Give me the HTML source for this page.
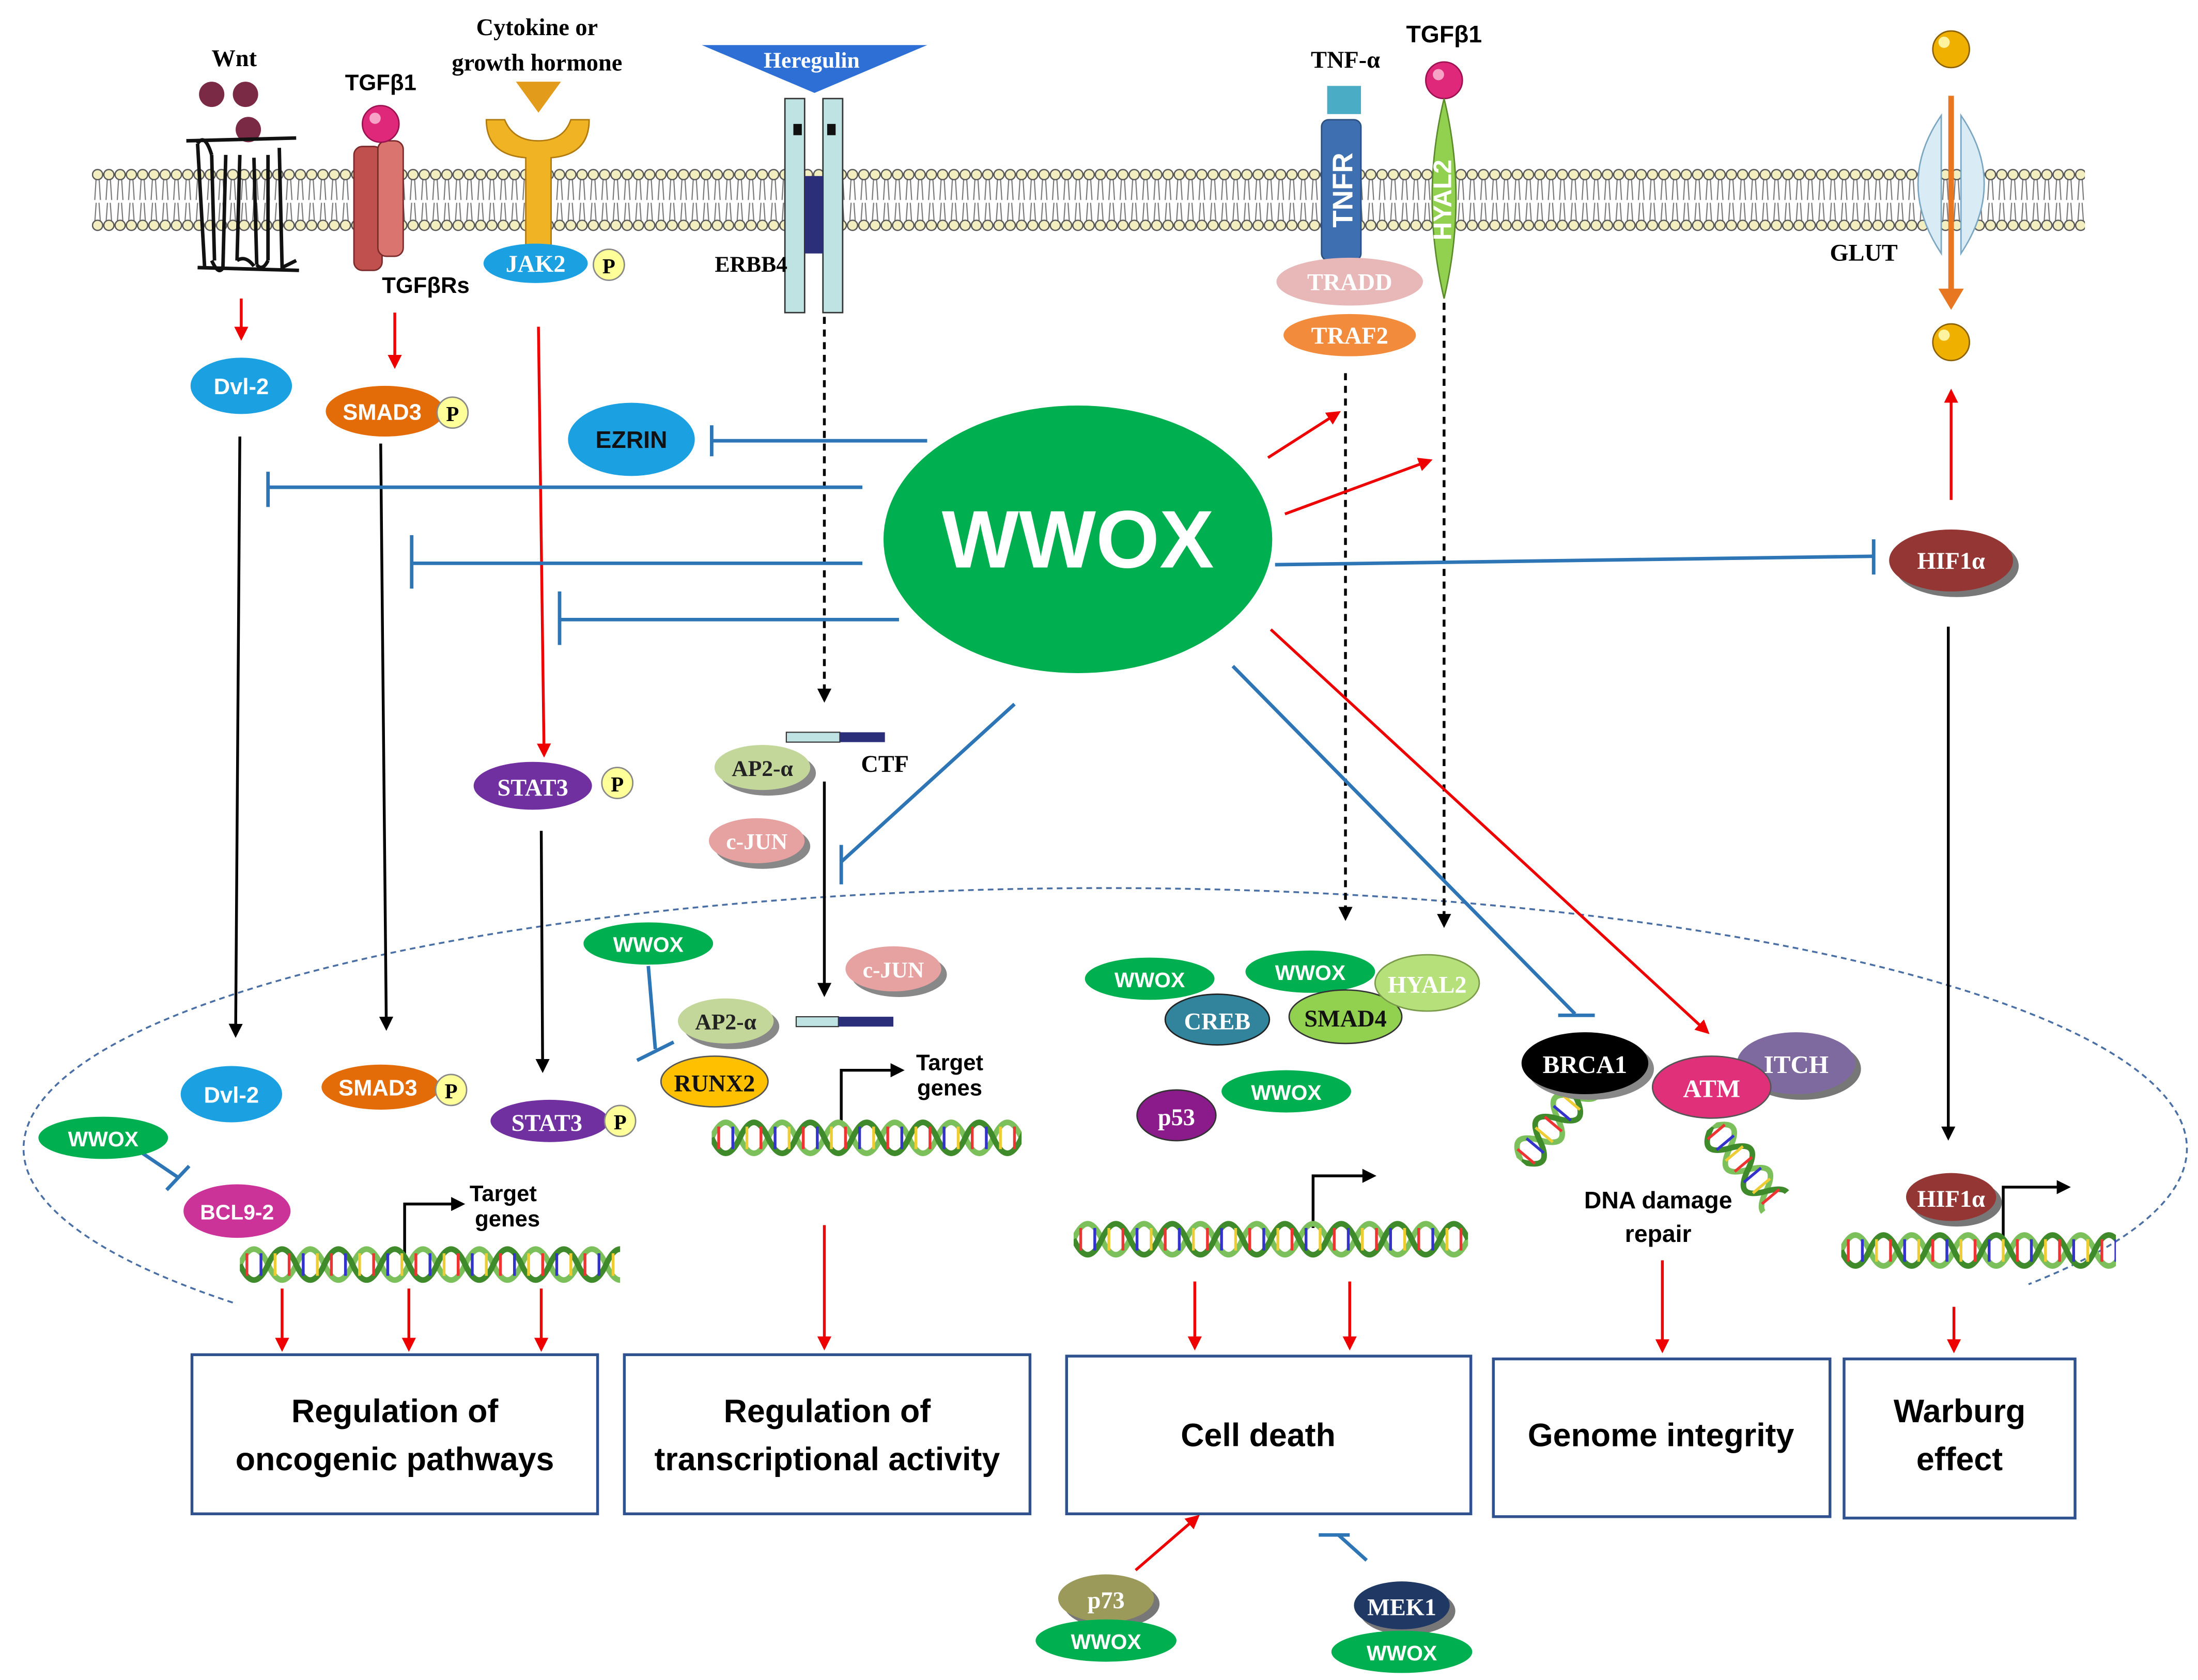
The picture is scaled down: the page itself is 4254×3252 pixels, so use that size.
<!DOCTYPE html>
<html><head><meta charset="utf-8"><style>
html,body{margin:0;padding:0;background:#fff;}
svg{display:block;}
text{font-family:"Liberation Sans",sans-serif;}
.s{font-family:"Liberation Serif",serif;font-weight:bold;}
.b{font-weight:bold;}
</style></head><body>
<svg width="4254" height="3252" viewBox="0 0 1560 1193" xmlns="http://www.w3.org/2000/svg">
<defs>
<marker id="ar" markerWidth="10" markerHeight="10" refX="8" refY="5" orient="auto" markerUnits="userSpaceOnUse"><path d="M0,0 L10,5 L0,10 z" fill="#e00"/></marker>
<marker id="ak" markerWidth="10" markerHeight="10" refX="8" refY="5" orient="auto" markerUnits="userSpaceOnUse"><path d="M0,0 L10,5 L0,10 z" fill="#000"/></marker>
<pattern id="lip" x="65" y="0" width="8" height="200" patternUnits="userSpaceOnUse">
<line x1="3" y1="126" x2="2" y2="142" stroke="#777" stroke-width="0.8"/><line x1="5" y1="126" x2="6" y2="142" stroke="#777" stroke-width="0.8"/>
<line x1="3" y1="144" x2="2" y2="158" stroke="#777" stroke-width="0.8"/><line x1="5" y1="144" x2="6" y2="158" stroke="#777" stroke-width="0.8"/>
<circle cx="4" cy="124" r="3.6" fill="#f2eec0" stroke="#555" stroke-width="0.9"/>
<circle cx="4" cy="160" r="3.6" fill="#f2eec0" stroke="#555" stroke-width="0.9"/>
</pattern>
<g id="dna">
<path d="M0,0 q10,-22 20,0 t20,0 t20,0 t20,0 t20,0 t20,0 t20,0 t20,0 t20,0 t20,0 t20,0 t20,0 t20,0 t20,0" fill="none" stroke="#7cc05c" stroke-width="4"/>
<path d="M0,0 q10,22 20,0 t20,0 t20,0 t20,0 t20,0 t20,0 t20,0 t20,0 t20,0 t20,0 t20,0 t20,0 t20,0 t20,0" fill="none" stroke="#3f8a2a" stroke-width="4"/>
<g stroke-width="2">
<line x1="5" y1="-8" x2="5" y2="8" stroke="#e33"/><line x1="15" y1="-8" x2="15" y2="8" stroke="#33c"/><line x1="25" y1="-8" x2="25" y2="8" stroke="#ec3"/><line x1="35" y1="-8" x2="35" y2="8" stroke="#e33"/>
<line x1="45" y1="-8" x2="45" y2="8" stroke="#33c"/><line x1="55" y1="-8" x2="55" y2="8" stroke="#ec3"/><line x1="65" y1="-8" x2="65" y2="8" stroke="#e33"/><line x1="75" y1="-8" x2="75" y2="8" stroke="#33c"/>
<line x1="85" y1="-8" x2="85" y2="8" stroke="#ec3"/><line x1="95" y1="-8" x2="95" y2="8" stroke="#e33"/><line x1="105" y1="-8" x2="105" y2="8" stroke="#33c"/><line x1="115" y1="-8" x2="115" y2="8" stroke="#ec3"/>
<line x1="125" y1="-8" x2="125" y2="8" stroke="#e33"/><line x1="135" y1="-8" x2="135" y2="8" stroke="#33c"/><line x1="145" y1="-8" x2="145" y2="8" stroke="#ec3"/><line x1="155" y1="-8" x2="155" y2="8" stroke="#e33"/>
<line x1="165" y1="-8" x2="165" y2="8" stroke="#33c"/><line x1="175" y1="-8" x2="175" y2="8" stroke="#ec3"/><line x1="185" y1="-8" x2="185" y2="8" stroke="#e33"/><line x1="195" y1="-8" x2="195" y2="8" stroke="#33c"/>
<line x1="205" y1="-8" x2="205" y2="8" stroke="#ec3"/><line x1="215" y1="-8" x2="215" y2="8" stroke="#e33"/><line x1="225" y1="-8" x2="225" y2="8" stroke="#33c"/><line x1="235" y1="-8" x2="235" y2="8" stroke="#ec3"/>
<line x1="245" y1="-8" x2="245" y2="8" stroke="#e33"/><line x1="255" y1="-8" x2="255" y2="8" stroke="#33c"/><line x1="265" y1="-8" x2="265" y2="8" stroke="#ec3"/><line x1="275" y1="-8" x2="275" y2="8" stroke="#e33"/>
</g></g>
<clipPath id="c1"><rect x="0" y="-20" width="270" height="40"/></clipPath>
<clipPath id="c2"><rect x="0" y="-20" width="220" height="40"/></clipPath>
<clipPath id="c3"><rect x="0" y="-20" width="280" height="40"/></clipPath>
<clipPath id="c4"><rect x="0" y="-20" width="195" height="40"/></clipPath>
<clipPath id="c5"><rect x="0" y="-20" width="70" height="40"/></clipPath>
</defs>

<rect x="65" y="118" width="1415" height="48" fill="url(#lip)"/>

<path d="M165,925 A768,185 0 1 1 1440,912" fill="none" stroke="#4a6fa5" stroke-width="1.3" stroke-dasharray="4,3"/>

<circle cx="150" cy="67" r="9" fill="#7a2a45"/><circle cx="174" cy="67" r="9" fill="#7a2a45"/><circle cx="176" cy="92" r="9" fill="#7a2a45"/>
<text x="166" y="47" class="s" font-size="17" text-anchor="middle" fill="#000">Wnt</text>
<path d="M132,100 L210,98 M140,102 L145,190 M150,110 L152,185 M160,110 L158,190 M170,110 L168,185 M180,112 L182,188 M190,110 L190,185 M198,105 L200,190 L210,185 M140,190 L212,192" stroke="#111" stroke-width="2.5" fill="none"/>
<path d="M140,102 q5,-8 10,8 M158,190 q-3,6 -8,-5 M168,185 q6,-4 12,4 M182,188 q4,5 8,-3" stroke="#111" stroke-width="2.5" fill="none"/>

<text x="270" y="64" font-size="16" class="b" text-anchor="middle">TGFβ1</text>
<rect x="251" y="104" width="20" height="88" rx="6" fill="#c0504d" stroke="#7a2a2a"/>
<rect x="268" y="100" width="18" height="82" rx="6" fill="#d9756e" stroke="#7a2a2a"/>
<circle cx="270" cy="88" r="13" fill="#e0287a" stroke="#9a1050"/><circle cx="266" cy="84" r="4" fill="#f7a3c7"/>
<text x="302" y="208" font-size="16" class="b" text-anchor="middle">TGFβRs</text>

<text x="381" y="25" class="s" font-size="17" text-anchor="middle">Cytokine or</text>
<text x="381" y="50" class="s" font-size="17" text-anchor="middle">growth hormone</text>
<path d="M366,58 L398,58 L382,80 z" fill="#e39b1b"/>
<path d="M345,85 Q345,110 373,112 L373,175 L391,175 L391,112 Q418,110 418,85 L405,85 Q400,100 382,100 Q364,100 358,85 z" fill="#f0b323" stroke="#b07a10"/>
<ellipse cx="380" cy="187" rx="37" ry="14" fill="#1ba1e2"/>
<text x="380" y="193" class="s" font-size="17" fill="#fff" text-anchor="middle">JAK2</text>
<circle cx="432" cy="188" r="11" fill="#ffff99" stroke="#888"/><text x="432" y="194" class="s" font-size="15" text-anchor="middle">P</text>

<path d="M498,32 L658,32 L578,66 z" fill="#2e6fd6"/>
<text x="576" y="48" class="s" font-size="16" fill="#fff" text-anchor="middle">Heregulin</text>
<rect x="557" y="70" width="14" height="152" fill="#bfe3e3" stroke="#333"/>
<rect x="584" y="70" width="14" height="152" fill="#bfe3e3" stroke="#333"/>
<rect x="571" y="125" width="13" height="55" fill="#2b2f7a"/>
<rect x="563" y="88" width="6" height="8" fill="#111"/><rect x="587" y="88" width="6" height="8" fill="#111"/>
<text x="533" y="193" class="s" font-size="16" text-anchor="middle">ERBB4</text>

<text x="955" y="48" class="s" font-size="17" text-anchor="middle">TNF-α</text>
<rect x="942" y="61" width="24" height="20" fill="#4bacc6"/>
<rect x="938" y="85" width="28" height="100" rx="5" fill="#3e6fb0" stroke="#2a4f80"/>
<text transform="translate(960,135) rotate(-90)" font-size="20" class="b" fill="#fff" text-anchor="middle">TNFR</text>
<ellipse cx="958" cy="200" rx="52" ry="17" fill="#e8b8b8"/><text x="958" y="206" class="s" font-size="17" fill="#fff" text-anchor="middle">TRADD</text>
<ellipse cx="958" cy="238" rx="47" ry="15" fill="#f28c3c"/><text x="958" y="244" class="s" font-size="17" fill="#fff" text-anchor="middle">TRAF2</text>

<text x="1025" y="30" font-size="17" class="b" text-anchor="middle">TGFβ1</text>
<circle cx="1025" cy="57" r="13" fill="#e0287a" stroke="#9a1050"/><circle cx="1021" cy="53" r="4" fill="#f7a3c7"/>
<path d="M1025,70 Q1042,140 1025,212 Q1008,140 1025,70 z" fill="#92d050" stroke="#5a8a2a"/>
<text transform="translate(1030,142) rotate(-90)" font-size="18" class="b" fill="#fff" text-anchor="middle">HYAL2</text>

<circle cx="1385" cy="35" r="13" fill="#f0b000" stroke="#8a6000"/><circle cx="1380" cy="30" r="4" fill="#fff3a0"/>
<path d="M1378,82 Q1345,130 1378,180 z" fill="#d9ecf5" stroke="#7aa6c2"/>
<path d="M1392,82 Q1425,130 1392,180 z" fill="#d9ecf5" stroke="#7aa6c2"/>
<line x1="1385" y1="68" x2="1385" y2="210" stroke="#e87722" stroke-width="4"/><path d="M1376,205 L1394,205 L1385,220 z" fill="#e87722"/>
<circle cx="1385" cy="243" r="13" fill="#f0b000" stroke="#8a6000"/><circle cx="1380" cy="238" r="4" fill="#fff3a0"/>
<text x="1323" y="185" class="s" font-size="17" text-anchor="middle">GLUT</text>

<ellipse cx="765" cy="383" rx="138" ry="95" fill="#00b050"/>
<text x="765" y="403" font-size="58" class="b" fill="#fff" text-anchor="middle">WWOX</text>

<g stroke-width="2" fill="none">
<line x1="171" y1="212" x2="171" y2="240" stroke="#e00" marker-end="url(#ar)"/>
<line x1="280" y1="222" x2="280" y2="260" stroke="#e00" marker-end="url(#ar)"/>
<line x1="382" y1="232" x2="386" y2="536" stroke="#e00" marker-end="url(#ar)"/>
<line x1="170" y1="310" x2="167" y2="735" stroke="#000" marker-end="url(#ak)"/>
<line x1="270" y1="315" x2="274" y2="730" stroke="#000" marker-end="url(#ak)"/>
<line x1="384" y1="590" x2="385" y2="760" stroke="#000" marker-end="url(#ak)"/>
<line x1="585" y1="225" x2="585" y2="497" stroke="#000" stroke-dasharray="5,4" marker-end="url(#ak)"/>
<line x1="585" y1="555" x2="585" y2="706" stroke="#000" marker-end="url(#ak)"/>
<line x1="955" y1="265" x2="955" y2="652" stroke="#000" stroke-dasharray="5,4" marker-end="url(#ak)"/>
<line x1="1025" y1="215" x2="1025" y2="657" stroke="#000" stroke-dasharray="5,4" marker-end="url(#ak)"/>
<line x1="900" y1="325" x2="950" y2="293" stroke="#e00" marker-end="url(#ar)"/>
<line x1="912" y1="365" x2="1015" y2="327" stroke="#e00" marker-end="url(#ar)"/>
<line x1="902" y1="447" x2="1212" y2="733" stroke="#e00" marker-end="url(#ar)"/>
<line x1="1385" y1="355" x2="1385" y2="278" stroke="#e00" marker-end="url(#ar)"/>
<line x1="1383" y1="445" x2="1383" y2="808" stroke="#000" marker-end="url(#ak)"/>
<g stroke="#2e75b6" stroke-width="2.5">
<line x1="658" y1="313" x2="505" y2="313"/><line x1="505" y1="302" x2="505" y2="324"/>
<line x1="612" y1="346" x2="190" y2="346"/><line x1="190" y1="335" x2="190" y2="360"/>
<line x1="612" y1="400" x2="292" y2="400"/><line x1="292" y1="380" x2="292" y2="418"/>
<line x1="638" y1="440" x2="397" y2="440"/><line x1="397" y1="420" x2="397" y2="458"/>
<line x1="905" y1="401" x2="1330" y2="395"/><line x1="1330" y1="383" x2="1330" y2="408"/>
<line x1="720" y1="500" x2="597" y2="612"/><line x1="597" y1="600" x2="597" y2="628"/>
<line x1="875" y1="473" x2="1118" y2="720"/><line x1="1106" y1="721" x2="1132" y2="721"/>
<line x1="460" y1="686" x2="465" y2="745"/><line x1="452" y1="753" x2="478" y2="740"/>
<line x1="95" y1="815" x2="126" y2="836"/><line x1="118" y1="845" x2="134" y2="828"/>
<line x1="970" y1="1108" x2="950" y2="1090"/><line x1="936" y1="1090" x2="958" y2="1090"/>
</g>
<path d="M287,895 L287,855 L328,855" stroke="#000" marker-end="url(#ak)"/>
<path d="M597,797 L597,760 L640,760" stroke="#000" marker-end="url(#ak)"/>
<path d="M932,872 L932,835 L975,835" stroke="#000" marker-end="url(#ak)"/>
<path d="M1422,880 L1422,843 L1468,843" stroke="#000" marker-end="url(#ak)"/>
<g stroke="#e00">
<line x1="200" y1="915" x2="200" y2="958" marker-end="url(#ar)"/>
<line x1="290" y1="915" x2="290" y2="958" marker-end="url(#ar)"/>
<line x1="384" y1="915" x2="384" y2="958" marker-end="url(#ar)"/>
<line x1="585" y1="870" x2="585" y2="957" marker-end="url(#ar)"/>
<line x1="848" y1="910" x2="848" y2="957" marker-end="url(#ar)"/>
<line x1="958" y1="910" x2="958" y2="957" marker-end="url(#ar)"/>
<line x1="1180" y1="895" x2="1180" y2="959" marker-end="url(#ar)"/>
<line x1="1387" y1="928" x2="1387" y2="959" marker-end="url(#ar)"/>
<line x1="806" y1="1115" x2="850" y2="1077" marker-end="url(#ar)"/>
</g>
</g>

<g transform="translate(170,898)" clip-path="url(#c1)"><use href="#dna"/></g>
<g transform="translate(505,808)" clip-path="url(#c2)"><use href="#dna"/></g>
<g transform="translate(762,880)" clip-path="url(#c3)"><use href="#dna"/></g>
<g transform="translate(1307,888)" clip-path="url(#c4)"><use href="#dna"/></g>
<g transform="translate(1080,825) rotate(-50)" clip-path="url(#c5)"><use href="#dna"/></g>
<g transform="translate(1215,800) rotate(50)" clip-path="url(#c5)"><use href="#dna"/></g>

<ellipse cx="171" cy="274" rx="36" ry="20" fill="#1ba1e2"/><text x="171" y="280" font-size="16" class="b" fill="#fff" text-anchor="middle">Dvl-2</text>
<ellipse cx="273" cy="292" rx="42" ry="18" fill="#e36c09"/><text x="271" y="298" font-size="16" class="b" fill="#fff" text-anchor="middle">SMAD3</text>
<circle cx="321" cy="293" r="11" fill="#ffff99" stroke="#888"/><text x="321" y="299" class="s" font-size="15" text-anchor="middle">P</text>
<ellipse cx="448" cy="312" rx="45" ry="26" fill="#1ba1e2"/><text x="448" y="318" font-size="17" class="b" fill="#111" text-anchor="middle">EZRIN</text>
<ellipse cx="378" cy="558" rx="42" ry="17" fill="#7030a0"/><text x="378" y="565" class="s" font-size="17" fill="#fff" text-anchor="middle">STAT3</text>
<circle cx="438" cy="556" r="11" fill="#ffff99" stroke="#888"/><text x="438" y="562" class="s" font-size="15" text-anchor="middle">P</text>
<ellipse cx="545" cy="549" rx="34" ry="16" fill="#888"/><ellipse cx="541" cy="545" rx="34" ry="16" fill="#c4d79b"/><text x="541" y="551" class="s" font-size="16" fill="#222" text-anchor="middle">AP2-α</text>
<rect x="558" y="520" width="38" height="7" fill="#bfe3e3" stroke="#333" stroke-width="0.8"/><rect x="596" y="520" width="32" height="7" fill="#2b2f7a"/>
<text x="628" y="548" class="s" font-size="17" text-anchor="middle">CTF</text>
<ellipse cx="541" cy="601" rx="34" ry="16" fill="#888"/><ellipse cx="537" cy="597" rx="34" ry="16" fill="#e6a1a1"/><text x="537" y="603" class="s" font-size="16" fill="#fff" text-anchor="middle">c-JUN</text>
<ellipse cx="1389" cy="402" rx="44" ry="22" fill="#777"/><ellipse cx="1385" cy="398" rx="44" ry="22" fill="#943634"/><text x="1385" y="404" class="s" font-size="17" fill="#fff" text-anchor="middle">HIF1α</text>

<ellipse cx="460" cy="670" rx="46" ry="15" fill="#00b050"/><text x="460" y="676" font-size="15" class="b" fill="#fff" text-anchor="middle">WWOX</text>
<ellipse cx="519" cy="729" rx="34" ry="16" fill="#888"/><ellipse cx="515" cy="725" rx="34" ry="16" fill="#c4d79b"/><text x="515" y="731" class="s" font-size="16" fill="#222" text-anchor="middle">AP2-α</text>
<ellipse cx="638" cy="692" rx="34" ry="16" fill="#888"/><ellipse cx="634" cy="688" rx="34" ry="16" fill="#e6a1a1"/><text x="634" y="694" class="s" font-size="16" fill="#fff" text-anchor="middle">c-JUN</text>
<ellipse cx="507" cy="768" rx="38" ry="18" fill="#ffc000" stroke="#555"/><text x="507" y="775" class="s" font-size="17" fill="#111" text-anchor="middle">RUNX2</text>
<rect x="565" y="722" width="30" height="7" fill="#bfe3e3" stroke="#333" stroke-width="0.8"/><rect x="595" y="722" width="39" height="7" fill="#2b2f7a"/>
<text x="674" y="760" font-size="16" class="b" text-anchor="middle">Target</text><text x="674" y="778" font-size="16" class="b" text-anchor="middle">genes</text>

<ellipse cx="164" cy="777" rx="36" ry="20" fill="#1ba1e2"/><text x="164" y="783" font-size="16" class="b" fill="#fff" text-anchor="middle">Dvl-2</text>
<ellipse cx="270" cy="772" rx="42" ry="16" fill="#e36c09"/><text x="268" y="778" font-size="16" class="b" fill="#fff" text-anchor="middle">SMAD3</text>
<circle cx="320" cy="774" r="11" fill="#ffff99" stroke="#888"/><text x="320" y="780" class="s" font-size="15" text-anchor="middle">P</text>
<ellipse cx="390" cy="796" rx="42" ry="15" fill="#7030a0"/><text x="388" y="803" class="s" font-size="17" fill="#fff" text-anchor="middle">STAT3</text>
<circle cx="440" cy="796" r="11" fill="#ffff99" stroke="#888"/><text x="440" y="802" class="s" font-size="15" text-anchor="middle">P</text>
<ellipse cx="73" cy="808" rx="46" ry="15" fill="#00b050"/><text x="73" y="814" font-size="15" class="b" fill="#fff" text-anchor="middle">WWOX</text>
<ellipse cx="168" cy="860" rx="38" ry="19" fill="#cc3399"/><text x="168" y="866" font-size="15" class="b" fill="#fff" text-anchor="middle">BCL9-2</text>
<text x="357" y="853" font-size="16" class="b" text-anchor="middle">Target</text><text x="360" y="871" font-size="16" class="b" text-anchor="middle">genes</text>

<ellipse cx="816" cy="695" rx="46" ry="15" fill="#00b050"/><text x="816" y="701" font-size="15" class="b" fill="#fff" text-anchor="middle">WWOX</text>
<ellipse cx="864" cy="724" rx="37" ry="18" fill="#31849b" stroke="#222"/><text x="864" y="731" class="s" font-size="17" fill="#fff" text-anchor="middle">CREB</text>
<ellipse cx="930" cy="690" rx="46" ry="15" fill="#00b050"/><text x="930" y="696" font-size="15" class="b" fill="#fff" text-anchor="middle">WWOX</text>
<ellipse cx="955" cy="722" rx="40" ry="19" fill="#92d050" stroke="#333"/><text x="955" y="729" class="s" font-size="17" fill="#111" text-anchor="middle">SMAD4</text>
<ellipse cx="1013" cy="698" rx="37" ry="20" fill="#b5e07a" stroke="#7a9a4a"/><text x="1013" y="705" class="s" font-size="17" fill="#fff" text-anchor="middle">HYAL2</text>
<ellipse cx="913" cy="775" rx="46" ry="15" fill="#00b050"/><text x="913" y="781" font-size="15" class="b" fill="#fff" text-anchor="middle">WWOX</text>
<ellipse cx="835" cy="792" rx="28" ry="18" fill="#8b1a8b" stroke="#333"/><text x="835" y="799" class="s" font-size="17" fill="#fff" text-anchor="middle">p53</text>

<ellipse cx="1279" cy="759" rx="42" ry="22" fill="#777"/><ellipse cx="1275" cy="755" rx="42" ry="22" fill="#7f6a9f"/><text x="1275" y="762" class="s" font-size="18" fill="#fff" text-anchor="middle">ITCH</text>
<ellipse cx="1129" cy="759" rx="45" ry="22" fill="#888"/><ellipse cx="1125" cy="755" rx="45" ry="22" fill="#000"/><text x="1125" y="762" class="s" font-size="18" fill="#fff" text-anchor="middle">BRCA1</text>
<ellipse cx="1215" cy="772" rx="42" ry="22" fill="#e0307a" stroke="#555"/><text x="1215" y="779" class="s" font-size="18" fill="#fff" text-anchor="middle">ATM</text>
<text x="1177" y="858" font-size="17" class="b" text-anchor="middle">DNA damage</text><text x="1177" y="882" font-size="17" class="b" text-anchor="middle">repair</text>

<ellipse cx="1389" cy="854" rx="32" ry="17" fill="#777"/><ellipse cx="1385" cy="850" rx="32" ry="17" fill="#943634"/><text x="1385" y="857" class="s" font-size="17" fill="#fff" text-anchor="middle">HIF1α</text>

<g fill="#fff" stroke="#2f528f" stroke-width="2">
<rect x="136" y="962" width="288" height="113"/><rect x="443" y="962" width="288" height="113"/>
<rect x="757" y="963" width="287" height="112"/><rect x="1060" y="965" width="239" height="112"/><rect x="1309" y="965" width="164" height="113"/>
</g>
<g font-size="23" fill="#000" text-anchor="middle" style="font-weight:600">
<text x="280" y="1010">Regulation of</text><text x="280" y="1044">oncogenic pathways</text>
<text x="587" y="1010">Regulation of</text><text x="587" y="1044">transcriptional  activity</text>
<text x="893" y="1027">Cell death</text>
<text x="1179" y="1027">Genome integrity</text>
<text x="1391" y="1010">Warburg</text><text x="1391" y="1044">effect</text>
</g>

<ellipse cx="789" cy="1139" rx="34" ry="17" fill="#777"/><ellipse cx="785" cy="1135" rx="34" ry="17" fill="#9c9a5a"/><text x="785" y="1142" class="s" font-size="17" fill="#fff" text-anchor="middle">p73</text>
<ellipse cx="785" cy="1165" rx="50" ry="15" fill="#00b050"/><text x="785" y="1171" font-size="15" class="b" fill="#fff" text-anchor="middle">WWOX</text>
<ellipse cx="999" cy="1144" rx="34" ry="17" fill="#777"/><ellipse cx="995" cy="1140" rx="34" ry="17" fill="#1f3864"/><text x="995" y="1147" class="s" font-size="17" fill="#fff" text-anchor="middle">MEK1</text>
<ellipse cx="995" cy="1173" rx="50" ry="15" fill="#00b050"/><text x="995" y="1179" font-size="15" class="b" fill="#fff" text-anchor="middle">WWOX</text>
</svg>
</body></html>
